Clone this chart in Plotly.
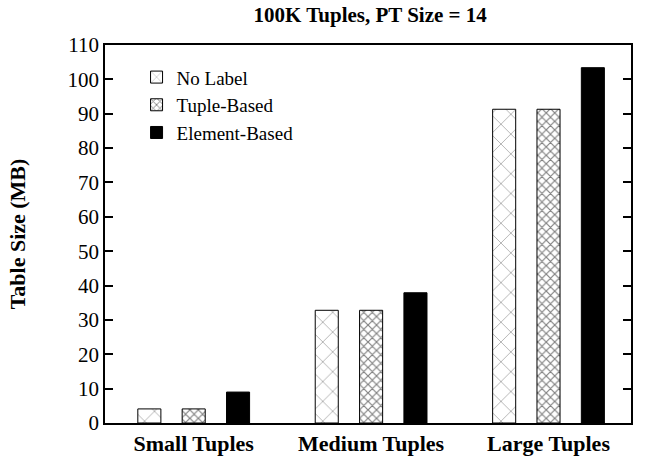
import plotly.graph_objects as go

categories = ["Small Tuples", "Medium Tuples", "Large Tuples"]
no_label = [4.1, 32.8, 91.3]
tuple_based = [4.1, 32.8, 91.3]
element_based = [9.0, 37.9, 103.4]
y_ticks = list(range(0, 111, 10))

FONT = "Liberation Serif"

fig = go.Figure()
fig.add_trace(go.Bar(
    x=categories, y=no_label, name="No Label",
    marker=dict(color="white", line=dict(color="black", width=1),
                pattern=dict(shape="x", size=14, solidity=0.08, fgcolor="black", bgcolor="white")),
))
fig.add_trace(go.Bar(
    x=categories, y=tuple_based, name="Tuple-Based",
    marker=dict(color="white", line=dict(color="black", width=1),
                pattern=dict(shape="x", size=6, solidity=0.35, fgcolor="black", bgcolor="white")),
))
fig.add_trace(go.Bar(
    x=categories, y=element_based, name="Element-Based",
    marker=dict(color="black", line=dict(color="black", width=1)),
))

fig.update_layout(
    width=646, height=462,
    margin=dict(l=105, r=15, t=45, b=39),
    paper_bgcolor="white", plot_bgcolor="white",
    barmode="group", bargap=0.25, bargroupgap=0.48,
    font=dict(family=FONT, size=21, color="black"),
    title=dict(text="<b>100K Tuples, PT Size = 14</b>", x=0.573, xanchor="center",
               y=0.985, yanchor="top", font=dict(family=FONT, size=21)),
    showlegend=True,
    legend=dict(x=0.06, y=0.965, xanchor="left", yanchor="top",
                bgcolor="rgba(0,0,0,0)", font=dict(family=FONT, size=19),
                tracegroupgap=0, itemwidth=30),
)
fig.update_xaxes(
    range=[-0.5, 2.465], showline=True, linecolor="black", linewidth=1.5, mirror=True,
    ticks="", showgrid=False, zeroline=False, automargin=False,
    tickfont=dict(family=FONT, size=22),
    tickvals=categories, ticktext=["<b>%s</b>" % c for c in categories],
)
fig.update_yaxes(
    range=[0, 110], tickvals=y_ticks, showline=True, linecolor="black", linewidth=1.5,
    mirror="ticks", ticks="inside", ticklen=8, tickwidth=1.5, tickcolor="black",
    showgrid=False, zeroline=False, automargin=False, tickfont=dict(family=FONT, size=21),
    title=dict(text="<b>Table Size (MB)</b>", font=dict(family=FONT, size=22), standoff=36),
)

fig.write_html("out.html")
